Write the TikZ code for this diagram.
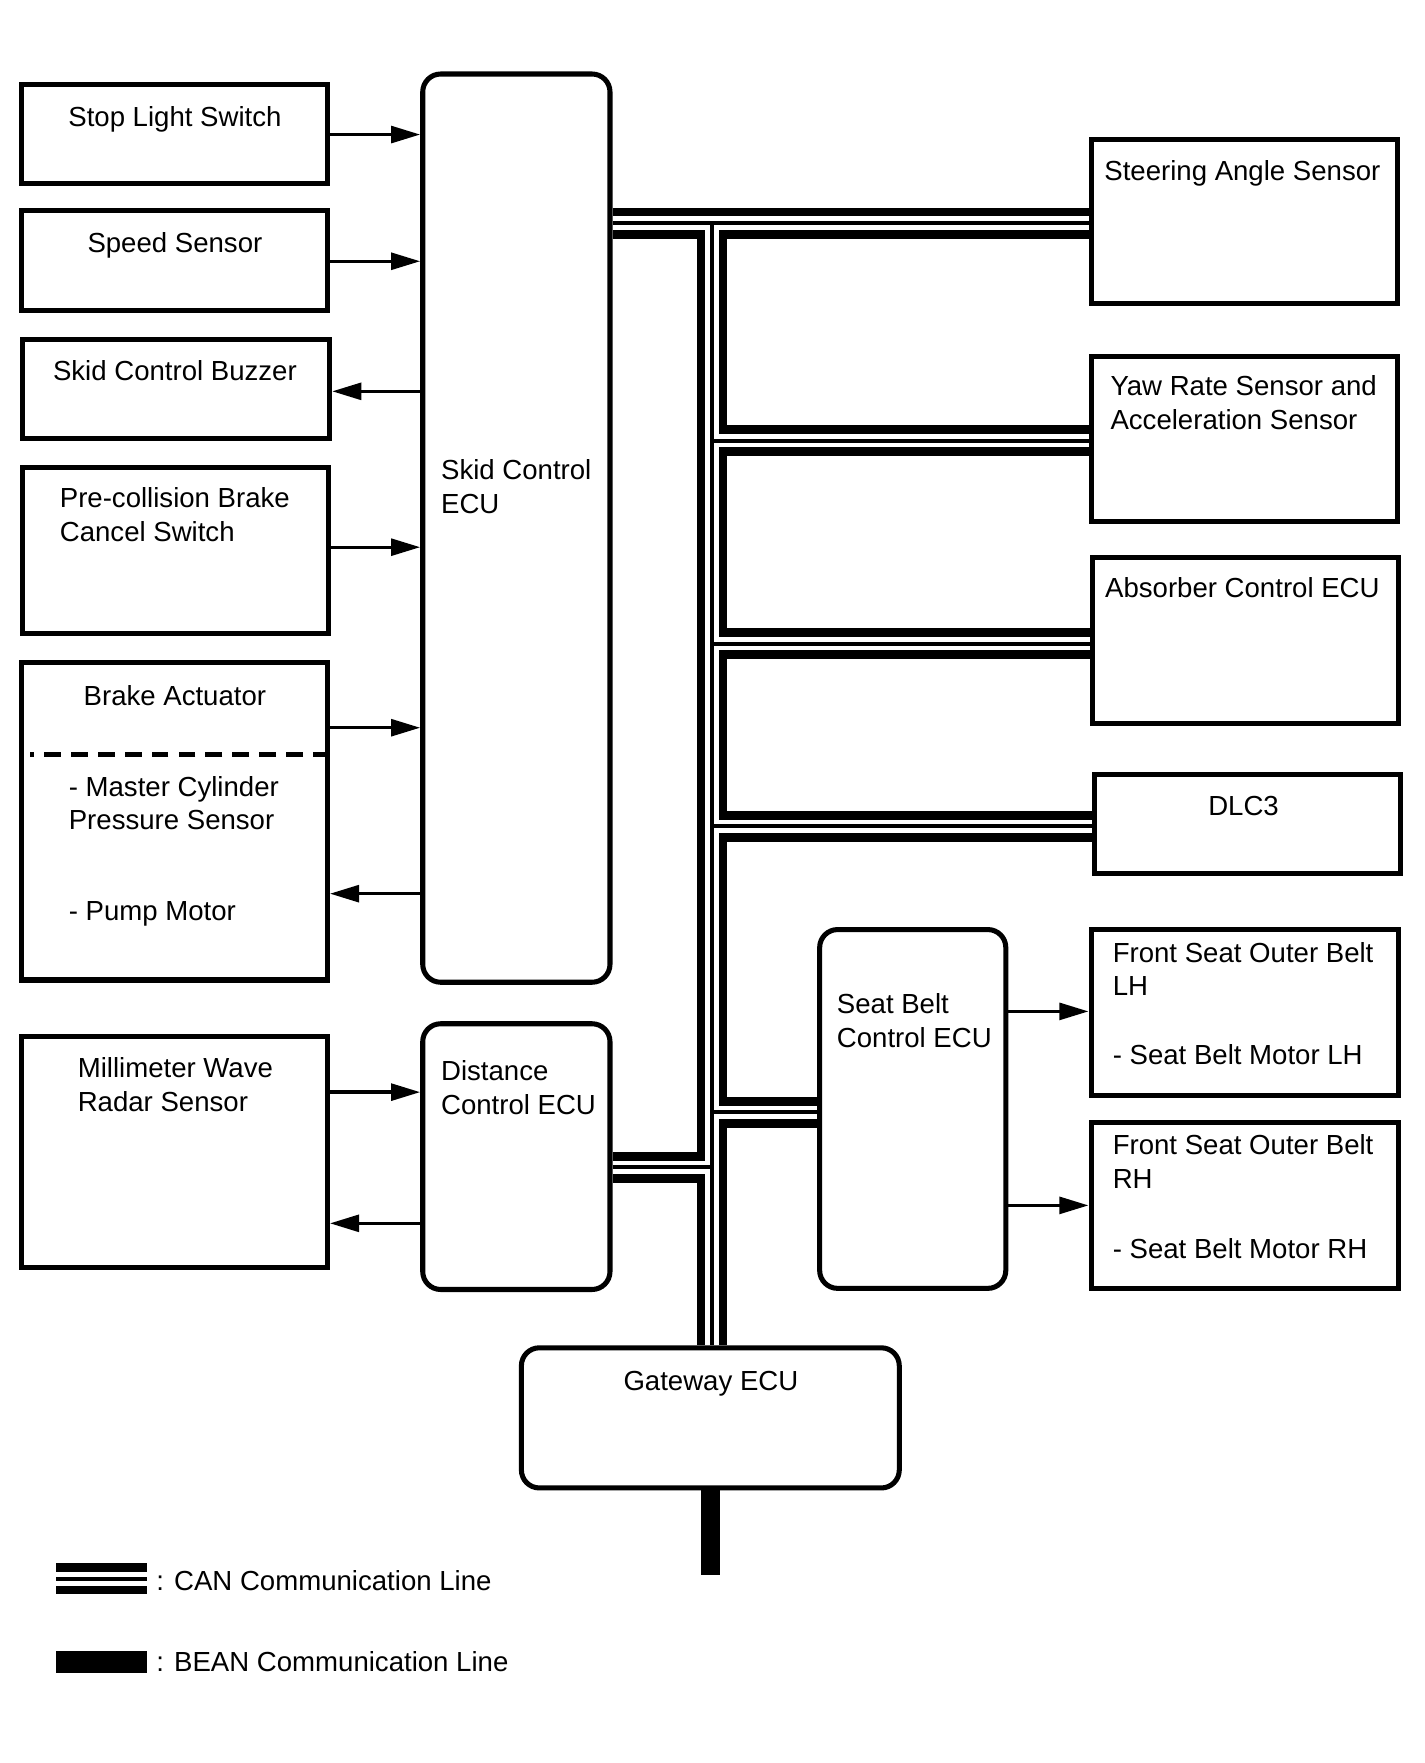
\documentclass[tikz,border=0pt]{standalone}
\usepackage{fontspec}
\setmainfont{Liberation Sans}
\usetikzlibrary{arrows.meta,fit,backgrounds}
\newcommand{\cannet}[1]{%
  \draw[#1] (skid.east |- tTop) -- (str.west |- tTop);
  \draw[#1] (tTop) -- (gw.north -| tTop);
  \draw[#1] (tYaw) -- (yaw.west |- tYaw);
  \draw[#1] (tAbs) -- (abs.west |- tAbs);
  \draw[#1] (tDlc) -- (dlc.west |- tDlc);
  \draw[#1] (tSbe) -- (sbe.west |- tSbe);
  \draw[#1] (dist.east |- tDist) -- (tDist);
  \draw[#1] (lgC1) -- (lgC2);
}
\begin{document}
\begin{tikzpicture}[x=0.5pt,y=-0.5pt,
  box/.style={draw, line width=2.25pt, inner sep=0pt},
  rbox/.style={box, rounded corners=8pt},
  txt/.style={font=\fontsize{12.3}{15}\selectfont, inner sep=0pt, align=left, anchor=base west},
  ctxt/.style={font=\fontsize{12.3}{15}\selectfont, inner sep=0pt, align=center, anchor=base},
  arr/.style={line width=1.5pt, -{Triangle[length=13pt,width=7.5pt]}},
  canline/.style={line cap=butt},
]
\useasboundingbox (0,0) rectangle (1270,1572.3);

% left column boxes
\node[box, fit={(19,75) (292,164)}] (sls) {};
\node[box, fit={(19,188) (292,277)}] (spd) {};
\node[box, fit={(20,303) (294,391)}] (buz) {};
\node[box, fit={(20,417) (293,565)}] (pcs) {};
\node[box, fit={(19,591) (292,874)}] (bra) {};
\node[box, fit={(19,924) (292,1130)}] (mmw) {};

% ECUs
\node[rbox, fit={(377,66) (544,876)}] (skid) {};
\node[rbox, fit={(377,913) (544,1150)}] (dist) {};
\node[rbox, fit={(731,829) (897,1149)}] (sbe) {};
\node[rbox, fit={(465,1202) (802,1327)}] (gw) {};

% right column boxes
\node[box, fit={(973,124) (1246,271)}] (str) {};
\node[box, fit={(973,318) (1246,465)}] (yaw) {};
\node[box, fit={(974,497) (1247,645)}] (abs) {};
\node[box, fit={(976,691) (1249,779)}] (dlc) {};
\node[box, fit={(973,829) (1247,977)}] (fsl) {};
\node[box, fit={(973,1001) (1247,1149)}] (fsr) {};

% texts (multi-line nodes are placed by the baseline of their last line)
\node[ctxt] (tsls) at (156,113) {Stop Light Switch};
\node[ctxt] (tspd) at (156,225) {Speed Sensor};
\node[ctxt] (tbuz) at (156,339) {Skid Control Buzzer};
\node[txt] (tpcs) at (53,483) {Pre-collision Brake\\Cancel Switch};
\node[ctxt] (tbra) at (156,629) {Brake Actuator};
\node[txt] (tmcp) at (61,740) {- Master Cylinder\\Pressure Sensor};
\node[txt] (tpmp) at (61,821) {- Pump Motor};
\node[txt] (tmmw) at (69,991) {Millimeter Wave\\Radar Sensor};
\node[txt] (tskid) at (393,458) {Skid Control\\ECU};
\node[txt] (tdist) at (393,994) {Distance\\Control ECU};
\node[txt] (tsbe) at (746,934) {Seat Belt\\Control ECU};
\node[ctxt] (tgw) at (634,1240) {Gateway ECU};
\node[ctxt] (tstr) at (1108,161) {Steering Angle Sensor};
\node[txt] (tyaw) at (990,383) {Yaw Rate Sensor and\\Acceleration Sensor};
\node[ctxt] (tabs) at (1108,533) {Absorber Control ECU};
\node[ctxt] (tdlc) at (1109,727) {DLC3};
\node[txt] (tfsl) at (992,888) {Front Seat Outer Belt\\LH};
\node[txt] (tfslm) at (992,949) {- Seat Belt Motor LH};
\node[txt] (tfsr) at (992,1060) {Front Seat Outer Belt\\RH};
\node[txt] (tfsrm) at (992,1122) {- Seat Belt Motor RH};
\node[txt] (tlgc) at (139,1418) {: CAN Communication Line};
\node[txt] (tlgb) at (139,1491) {: BEAN Communication Line};

% dashed separator in brake actuator
\coordinate (dsh) at (27,673);
\draw[line width=2.4pt, dash pattern=on 7.5pt off 4.5pt] (bra.east |- dsh) -- (dsh);

% arrow levels
\coordinate (a1) at (0,120);
\coordinate (a2) at (0,233);
\coordinate (a3) at (0,349);
\coordinate (a4) at (0,488);
\coordinate (a5) at (0,649);
\coordinate (a6) at (0,797);
\coordinate (a7) at (0,974);
\coordinate (a8) at (0,1091);
\coordinate (a9) at (0,902);
\coordinate (a10) at (0,1075);

\draw[arr] (sls.east |- a1) -- (skid.west |- a1);
\draw[arr] (spd.east |- a2) -- (skid.west |- a2);
\draw[arr] (skid.west |- a3) -- (buz.east |- a3);
\draw[arr] (pcs.east |- a4) -- (skid.west |- a4);
\draw[arr] (bra.east |- a5) -- (skid.west |- a5);
\draw[arr] (skid.west |- a6) -- (bra.east |- a6);
\draw[arr] (mmw.east |- a7) -- (dist.west |- a7);
\draw[arr] (dist.west |- a8) -- (mmw.east |- a8);
\draw[arr] (sbe.east |- a9) -- (fsl.west |- a9);
\draw[arr] (sbe.east |- a10) -- (fsr.west |- a10);

% CAN network coordinates
\coordinate (tTop) at (635,199);
\coordinate (tYaw) at (635,393);
\coordinate (tAbs) at (635,574);
\coordinate (tDlc) at (635,737);
\coordinate (tSbe) at (635,992);
\coordinate (tDist) at (635,1041);
\coordinate (bEnd) at (634,1405);
\coordinate (lgC1) at (50,1408);
\coordinate (lgC2) at (131,1408);
\coordinate (lgB1) at (50,1482);
\coordinate (lgB2) at (131,1482);

\begin{scope}[on background layer, canline]
  \cannet{line width=13.75pt, black}
  \cannet{line width=6pt, white}
  \cannet{line width=1.8pt, black}
\end{scope}

% BEAN lines
\draw[line width=8.5pt, line cap=butt] (gw.south -| bEnd) -- (bEnd);
\draw[line width=10pt, line cap=butt] (lgB1) -- (lgB2);
\end{tikzpicture}
\end{document}
